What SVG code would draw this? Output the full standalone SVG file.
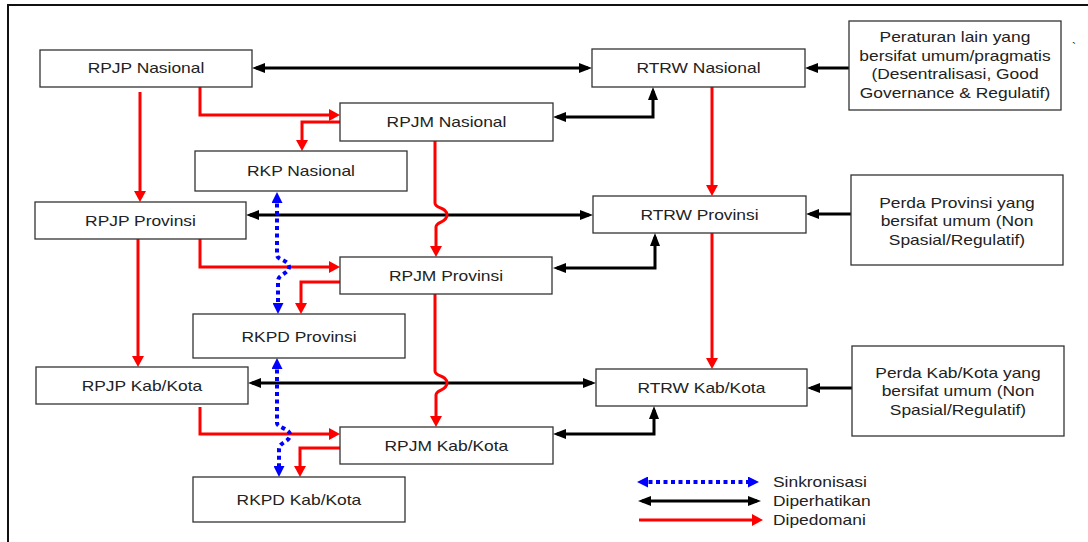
<svg xmlns="http://www.w3.org/2000/svg" width="1088" height="542" viewBox="0 0 1088 542">
<style>
.box{fill:#fff;stroke:#333;stroke-width:1.3}
.t{font-family:"Liberation Sans",Arial,sans-serif;font-size:15px;fill:#222;text-anchor:middle;transform-box:fill-box;transform-origin:50% 50%;transform:scaleX(1.16)}
.tl{font-family:"Liberation Sans",Arial,sans-serif;font-size:15px;fill:#222;transform-box:fill-box;transform-origin:0 50%;transform:scaleX(1.16)}
.k{fill:none;stroke:#000;stroke-width:3}
.r{fill:none;stroke:#f00;stroke-width:3}
.b{fill:none;stroke:#00f;stroke-width:4;stroke-dasharray:4 3.5}
.frame{fill:none;stroke:#111;stroke-width:2}
</style>
<defs>
<marker id="ak" markerUnits="userSpaceOnUse" markerWidth="13" markerHeight="10" refX="9" refY="5" orient="auto-start-reverse"><path d="M0,0 L13,5 L0,10 z" fill="#000"/></marker>
<marker id="ar" markerUnits="userSpaceOnUse" markerWidth="11" markerHeight="12" refX="7" refY="6" orient="auto-start-reverse"><path d="M0,0 L11,6 L0,12 z" fill="#f00"/></marker>
<marker id="ab" markerUnits="userSpaceOnUse" markerWidth="11" markerHeight="11" refX="7" refY="5.5" orient="auto-start-reverse"><path d="M0,0 L11,5.5 L0,11 z" fill="#00f"/></marker>
</defs>
<path class="frame" d="M8,542 V5 H1088"/>
<text x="1072" y="52" font-family="Liberation Sans, sans-serif" font-size="12" fill="#222">`</text>

<g id="connectors">
<path class="k" d="M256,68 H588" marker-start="url(#ak)" marker-end="url(#ak)"/>
<path class="k" d="M250,215 H589" marker-start="url(#ak)" marker-end="url(#ak)"/>
<path class="k" d="M252,383 H592" marker-start="url(#ak)" marker-end="url(#ak)"/>
<path class="k" d="M557,117 H653 V91" marker-start="url(#ak)" marker-end="url(#ak)"/>
<path class="k" d="M557,268 H655 V237" marker-start="url(#ak)" marker-end="url(#ak)"/>
<path class="k" d="M557,434 H654 V410" marker-start="url(#ak)" marker-end="url(#ak)"/>
<path class="k" d="M850,68 H809" marker-end="url(#ak)"/>
<path class="k" d="M851,214 H810" marker-end="url(#ak)"/>
<path class="k" d="M852,388 H811" marker-end="url(#ak)"/>

<path class="r" d="M140,92 V198" marker-end="url(#ar)"/>
<path class="r" d="M200,87 V115 H336" marker-end="url(#ar)"/>
<path class="r" d="M340,122 H302 V147" marker-end="url(#ar)"/>
<path class="r" d="M435,141 V203 C435,209 447,207 447,215 C447,223 436,221 436,227 V253" marker-end="url(#ar)"/>
<path class="r" d="M712,87 V192" marker-end="url(#ar)"/>
<path class="r" d="M138,239 V363" marker-end="url(#ar)"/>
<path class="r" d="M200,239 V267 H336" marker-end="url(#ar)"/>
<path class="r" d="M340,282 H301 V310" marker-end="url(#ar)"/>
<path class="r" d="M435,294 V371 C435,377 447,375 447,383 C447,391 436,389 436,395 V423" marker-end="url(#ar)"/>
<path class="r" d="M712,233 V365" marker-end="url(#ar)"/>
<path class="r" d="M200,407 V434 H336" marker-end="url(#ar)"/>
<path class="r" d="M340,448 H300 V473" marker-end="url(#ar)"/>

<path class="b" d="M277,196 V255 C277,260 289,260 289,267 C289,274 278,274 278,281 V310" marker-start="url(#ab)" marker-end="url(#ab)"/>
<path class="b" d="M277,362 V423 C277,428 290,428 290,435 C290,442 279,442 279,449 V473" marker-start="url(#ab)" marker-end="url(#ab)"/>
</g>

<g id="rpjp-nasional"><rect class="box" x="40" y="50" width="212" height="37"/><text class="t" x="146" y="73">RPJP Nasional</text></g>
<g id="rpjm-nasional"><rect class="box" x="340" y="103" width="213" height="38"/><text class="t" x="446.5" y="127">RPJM Nasional</text></g>
<g id="rkp-nasional"><rect class="box" x="195" y="151" width="212" height="40"/><text class="t" x="301" y="176.5">RKP Nasional</text></g>
<g id="rtrw-nasional"><rect class="box" x="592" y="49" width="213" height="38"/><text class="t" x="698.5" y="73.5">RTRW Nasional</text></g>
<g id="rpjp-provinsi"><rect class="box" x="35" y="202" width="211" height="37"/><text class="t" x="140.5" y="226">RPJP Provinsi</text></g>
<g id="rtrw-provinsi"><rect class="box" x="593" y="196" width="213" height="37"/><text class="t" x="699.5" y="220">RTRW Provinsi</text></g>
<g id="rpjm-provinsi"><rect class="box" x="340" y="257" width="212" height="37"/><text class="t" x="446" y="281">RPJM Provinsi</text></g>
<g id="rkpd-provinsi"><rect class="box" x="193" y="314" width="212" height="44"/><text class="t" x="299" y="342">RKPD Provinsi</text></g>
<g id="rpjp-kabkota"><rect class="box" x="36" y="367" width="212" height="37"/><text class="t" x="142" y="391">RPJP Kab/Kota</text></g>
<g id="rtrw-kabkota"><rect class="box" x="596" y="369" width="211" height="37"/><text class="t" x="701.5" y="393">RTRW Kab/Kota</text></g>
<g id="rpjm-kabkota"><rect class="box" x="340" y="427" width="213" height="37"/><text class="t" x="446.5" y="451">RPJM Kab/Kota</text></g>
<g id="rkpd-kabkota"><rect class="box" x="193" y="477" width="212" height="45"/><text class="t" x="299" y="505">RKPD Kab/Kota</text></g>

<g id="peraturan-lain"><rect class="box" x="849" y="21" width="212" height="89"/>
<text class="t" x="955" y="42">Peraturan lain yang</text>
<text class="t" x="955" y="61">bersifat umum/pragmatis</text>
<text class="t" x="955" y="79">(Desentralisasi, Good</text>
<text class="t" x="955" y="98">Governance &amp; Regulatif)</text></g>
<g id="perda-provinsi"><rect class="box" x="851" y="175" width="212" height="90"/>
<text class="t" x="957" y="208">Perda Provinsi yang</text>
<text class="t" x="957" y="226.5">bersifat umum (Non</text>
<text class="t" x="957" y="245">Spasial/Regulatif)</text></g>
<g id="perda-kabkota"><rect class="box" x="852" y="346" width="212" height="90"/>
<text class="t" x="958" y="378">Perda Kab/Kota yang</text>
<text class="t" x="958" y="396.5">bersifat umum (Non</text>
<text class="t" x="958" y="415">Spasial/Regulatif)</text></g>

<g id="legend">
<path class="b" d="M641,482 H755" marker-start="url(#ab)" marker-end="url(#ab)"/>
<path class="k" d="M642,501 H757" marker-start="url(#ak)" marker-end="url(#ak)"/>
<path class="r" d="M639,520 H759" marker-end="url(#ar)"/>
<text class="tl" x="773" y="487">Sinkronisasi</text>
<text class="tl" x="773" y="506">Diperhatikan</text>
<text class="tl" x="773" y="525">Dipedomani</text>
</g>
</svg>
